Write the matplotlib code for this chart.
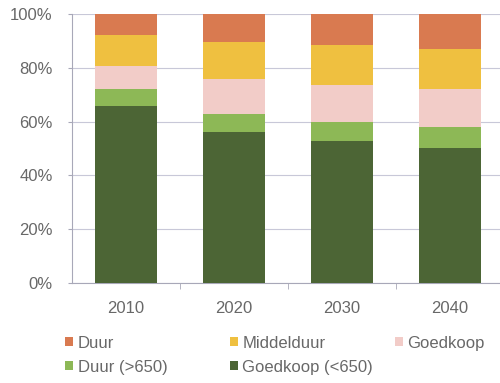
import matplotlib
matplotlib.use("Agg")
import matplotlib.pyplot as plt
import numpy as np

plt.rcParams["font.family"] = ["Liberation Sans", "DejaVu Sans"]

years = ["2010", "2020", "2030", "2040"]
series = ["Goedkoop (<650)", "Duur (>650)", "Goedkoop", "Middelduur", "Duur"]
goedkoop_650 = [66.0, 56.2, 52.7, 50.2]
duur_650 = [6.2, 6.7, 7.1, 7.7]
goedkoop = [8.7, 13.0, 14.0, 14.4]
middelduur = [11.2, 13.7, 14.6, 14.8]
duur = [7.9, 10.4, 11.6, 12.9]
values = [goedkoop_650, duur_650, goedkoop, middelduur, duur]
colors = ["#4C6535", "#8DB856", "#F2CCC8", "#EFC040", "#D97A50"]

fig = plt.figure(figsize=(5, 3.83), dpi=100)
ax = fig.add_axes([0.144, 0.261, 0.864, 0.702])

x = np.arange(len(years))
bottom = np.zeros(len(years))
bars = {}
for name, vals, col in zip(series, values, colors):
    bars[name] = ax.bar(x, vals, 0.58, bottom=bottom, color=col, zorder=3)
    bottom += np.array(vals)

ax.set_xlim(-0.5, 3.5)
ax.set_ylim(0, 100)
ax.set_yticks(range(0, 101, 20))
ax.set_yticklabels([f"{v}%" for v in range(0, 101, 20)])
ax.set_xticks(x)
ax.set_xticklabels(years)
ax.set_xticks([0.5, 1.5, 2.5], minor=True)
ax.tick_params(axis="x", which="major", length=0, pad=13)
ax.tick_params(axis="x", which="minor", length=4, color="#A8A8B8")
ax.tick_params(axis="y", length=3, color="#A8A8B8", pad=11)
ax.tick_params(labelsize=12, labelcolor="#686868")
ax.grid(axis="y", color="#C8C8D8", linewidth=0.8, zorder=0)
for s in ["top", "right"]:
    ax.spines[s].set_visible(False)
for s in ["left", "bottom"]:
    ax.spines[s].set_color("#A8A8B8")

# legend items laid out like the original (rows of three)
legend_order = ["Duur", "Middelduur", "Goedkoop", "Duur (>650)", "Goedkoop (<650)"]
spots = [(0.13, 0.104), (0.46, 0.104), (0.79, 0.104),
         (0.13, 0.041), (0.46, 0.041)]
for name, (lx, ly) in zip(legend_order, spots):
    leg = fig.legend([bars[name][0]], [name], loc="center left",
                     bbox_to_anchor=(lx, ly), frameon=False, fontsize=12,
                     handlelength=0.45, handleheight=0.45, handletextpad=0.3,
                     borderpad=0, borderaxespad=0)
    for t in leg.get_texts():
        t.set_color("#686868")

fig.savefig("out.png", dpi=100)
